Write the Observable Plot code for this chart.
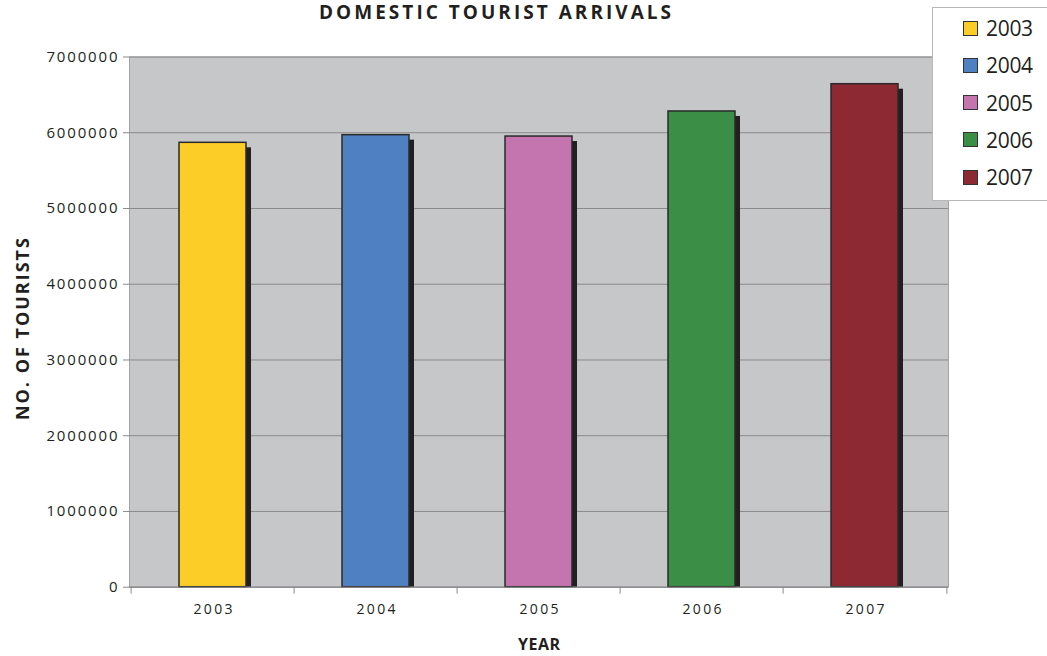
<!DOCTYPE html>
<html>
<head>
<meta charset="utf-8">
<script src="https://cdn.jsdelivr.net/npm/d3@7"></script>
<script src="https://cdn.jsdelivr.net/npm/@observablehq/plot@0.6"></script>
<style>
  html, body { margin: 0; padding: 0; background: #fff; }
  #chart { position: relative; width: 1047px; height: 656px; overflow: hidden; }
  #legend {
    position: absolute; left: 932px; top: 7px; width: 125px; height: 194px;
    background: #fff; border: 1px solid #b8b8b8; box-sizing: border-box;
    font-family: "Open Sans", sans-serif; color: #231f20;
  }
  .row { position: absolute; left: 30px; display: flex; align-items: center; height: 24px; }
  .sw { width: 13px; height: 13px; border: 1.5px solid #333; margin-right: 8px; box-sizing: content-box; }
  .lab { font-size: 21px; letter-spacing: -0.3px; }
</style>
</head>
<body>
<div id="chart"></div>
<script>
// Domestic tourist arrivals per year
const years = ["2003", "2004", "2005", "2006", "2007"];
const tourists = [5867000, 5968000, 5950000, 6281000, 6641000];
const colors = ["#fccd27", "#4f80c1", "#c474ae", "#3a8e46", "#8d2932"];
const yTicks = [0, 1000000, 2000000, 3000000, 4000000, 5000000, 6000000, 7000000];

const titleText = "DOMESTIC TOURIST ARRIVALS";
const yTitle = "NO. OF TOURISTS";
const xTitle = "YEAR";

const data = years.map((year, i) => ({year, value: tourists[i]}));

const W = 1047, H = 656;
const mL = 129, mR = 99, mT = 56.5, mB = 69.3;
const step = (W - mL - mR) / years.length;
const textColor = "#231f20";

const chart = Plot.plot({
  width: W,
  height: H,
  marginLeft: mL,
  marginRight: mR,
  marginTop: mT,
  marginBottom: mB,
  style: {fontFamily: "Open Sans, sans-serif", fontSize: "14px", color: textColor, background: "#fff"},
  x: {type: "band", domain: years, paddingInner: 0.59, paddingOuter: 0.295},
  y: {domain: [0, 7000000]},
  color: {domain: years, range: colors},
  marks: [
    Plot.frame({fill: "#c6c7c9", stroke: "#a4a4a4"}),
    Plot.gridY(yTicks, {stroke: "#8a8a8a", strokeOpacity: 1, strokeWidth: 1}),
    // drop shadow behind each bar
    Plot.barY(data, {x: "year", y: "value", fill: "#231f20", dx: 5, dy: 5, clip: true}),
    Plot.barY(data, {x: "year", y: "value", fill: "year", stroke: "#2a2a2a", strokeWidth: 1.5}),
    Plot.ruleY([0], {stroke: "#8a8a8a"}),
    Plot.axisY(yTicks, {
      tickSize: 6, tickPadding: 6, tickFormat: d3.format("d"), stroke: "#8a8a8a",
      fill: textColor, label: null
    }),
    // year labels under the bars
    Plot.axisX({tickSize: 0, tickPadding: 17, fill: textColor, label: null}),
    // tick marks on the category boundaries
    Plot.axisX({tickSize: 7, tickFormat: () => "", dx: -step / 2, stroke: "#8a8a8a", label: null}),
    Plot.axisX([years[years.length - 1]], {tickSize: 7, tickFormat: () => "", dx: step / 2, stroke: "#8a8a8a", label: null}),
    Plot.text([titleText], {
      frameAnchor: "top", lineAnchor: "middle", dx: -44, dy: -44, text: d => d,
      fontWeight: "bold", fontSize: 19, fill: textColor
    }),
    Plot.text([yTitle], {
      frameAnchor: "left", textAnchor: "middle", lineAnchor: "middle", rotate: -90, dx: -106, dy: 7, text: d => d,
      fontWeight: "bold", fontSize: 18, fill: textColor
    }),
    Plot.text([xTitle], {
      frameAnchor: "bottom", lineAnchor: "middle", dy: 58, text: d => d,
      fontWeight: "bold", fontSize: 16, fill: textColor
    })
  ]
});

// type sizes and tracking for the axis labels and titles
const svg = d3.select(chart);
const fit = (sel, len) => sel.attr("textLength", len).attr("lengthAdjust", "spacing");
const byText = (s) => svg.selectAll("text").filter(function () { return this.textContent === s; });
svg.selectAll('g[aria-label="y-axis tick label"]').style("font-size", "15px");
svg.selectAll('g[aria-label="y-axis tick label"] text').each(function () {
  fit(d3.select(this), this.textContent.length * 10.3 - 1);
});
svg.selectAll('g[aria-label="x-axis tick label"]').style("font-size", "14px");
fit(svg.selectAll('g[aria-label="x-axis tick label"] text'), 39);
fit(byText(titleText), 352);
fit(byText(yTitle), 182);
fit(byText(xTitle), 42);

const host = document.getElementById("chart");
host.appendChild(chart);

// legend box in the upper right corner
const legend = document.createElement("div");
legend.id = "legend";
years.forEach((year, i) => {
  const row = document.createElement("div");
  row.className = "row";
  row.style.top = (8 + i * 37.3) + "px";
  const sw = document.createElement("div");
  sw.className = "sw";
  sw.style.background = colors[i];
  const lab = document.createElement("span");
  lab.className = "lab";
  lab.textContent = year;
  row.appendChild(sw);
  row.appendChild(lab);
  legend.appendChild(row);
});
host.appendChild(legend);
</script>
</body>
</html>
